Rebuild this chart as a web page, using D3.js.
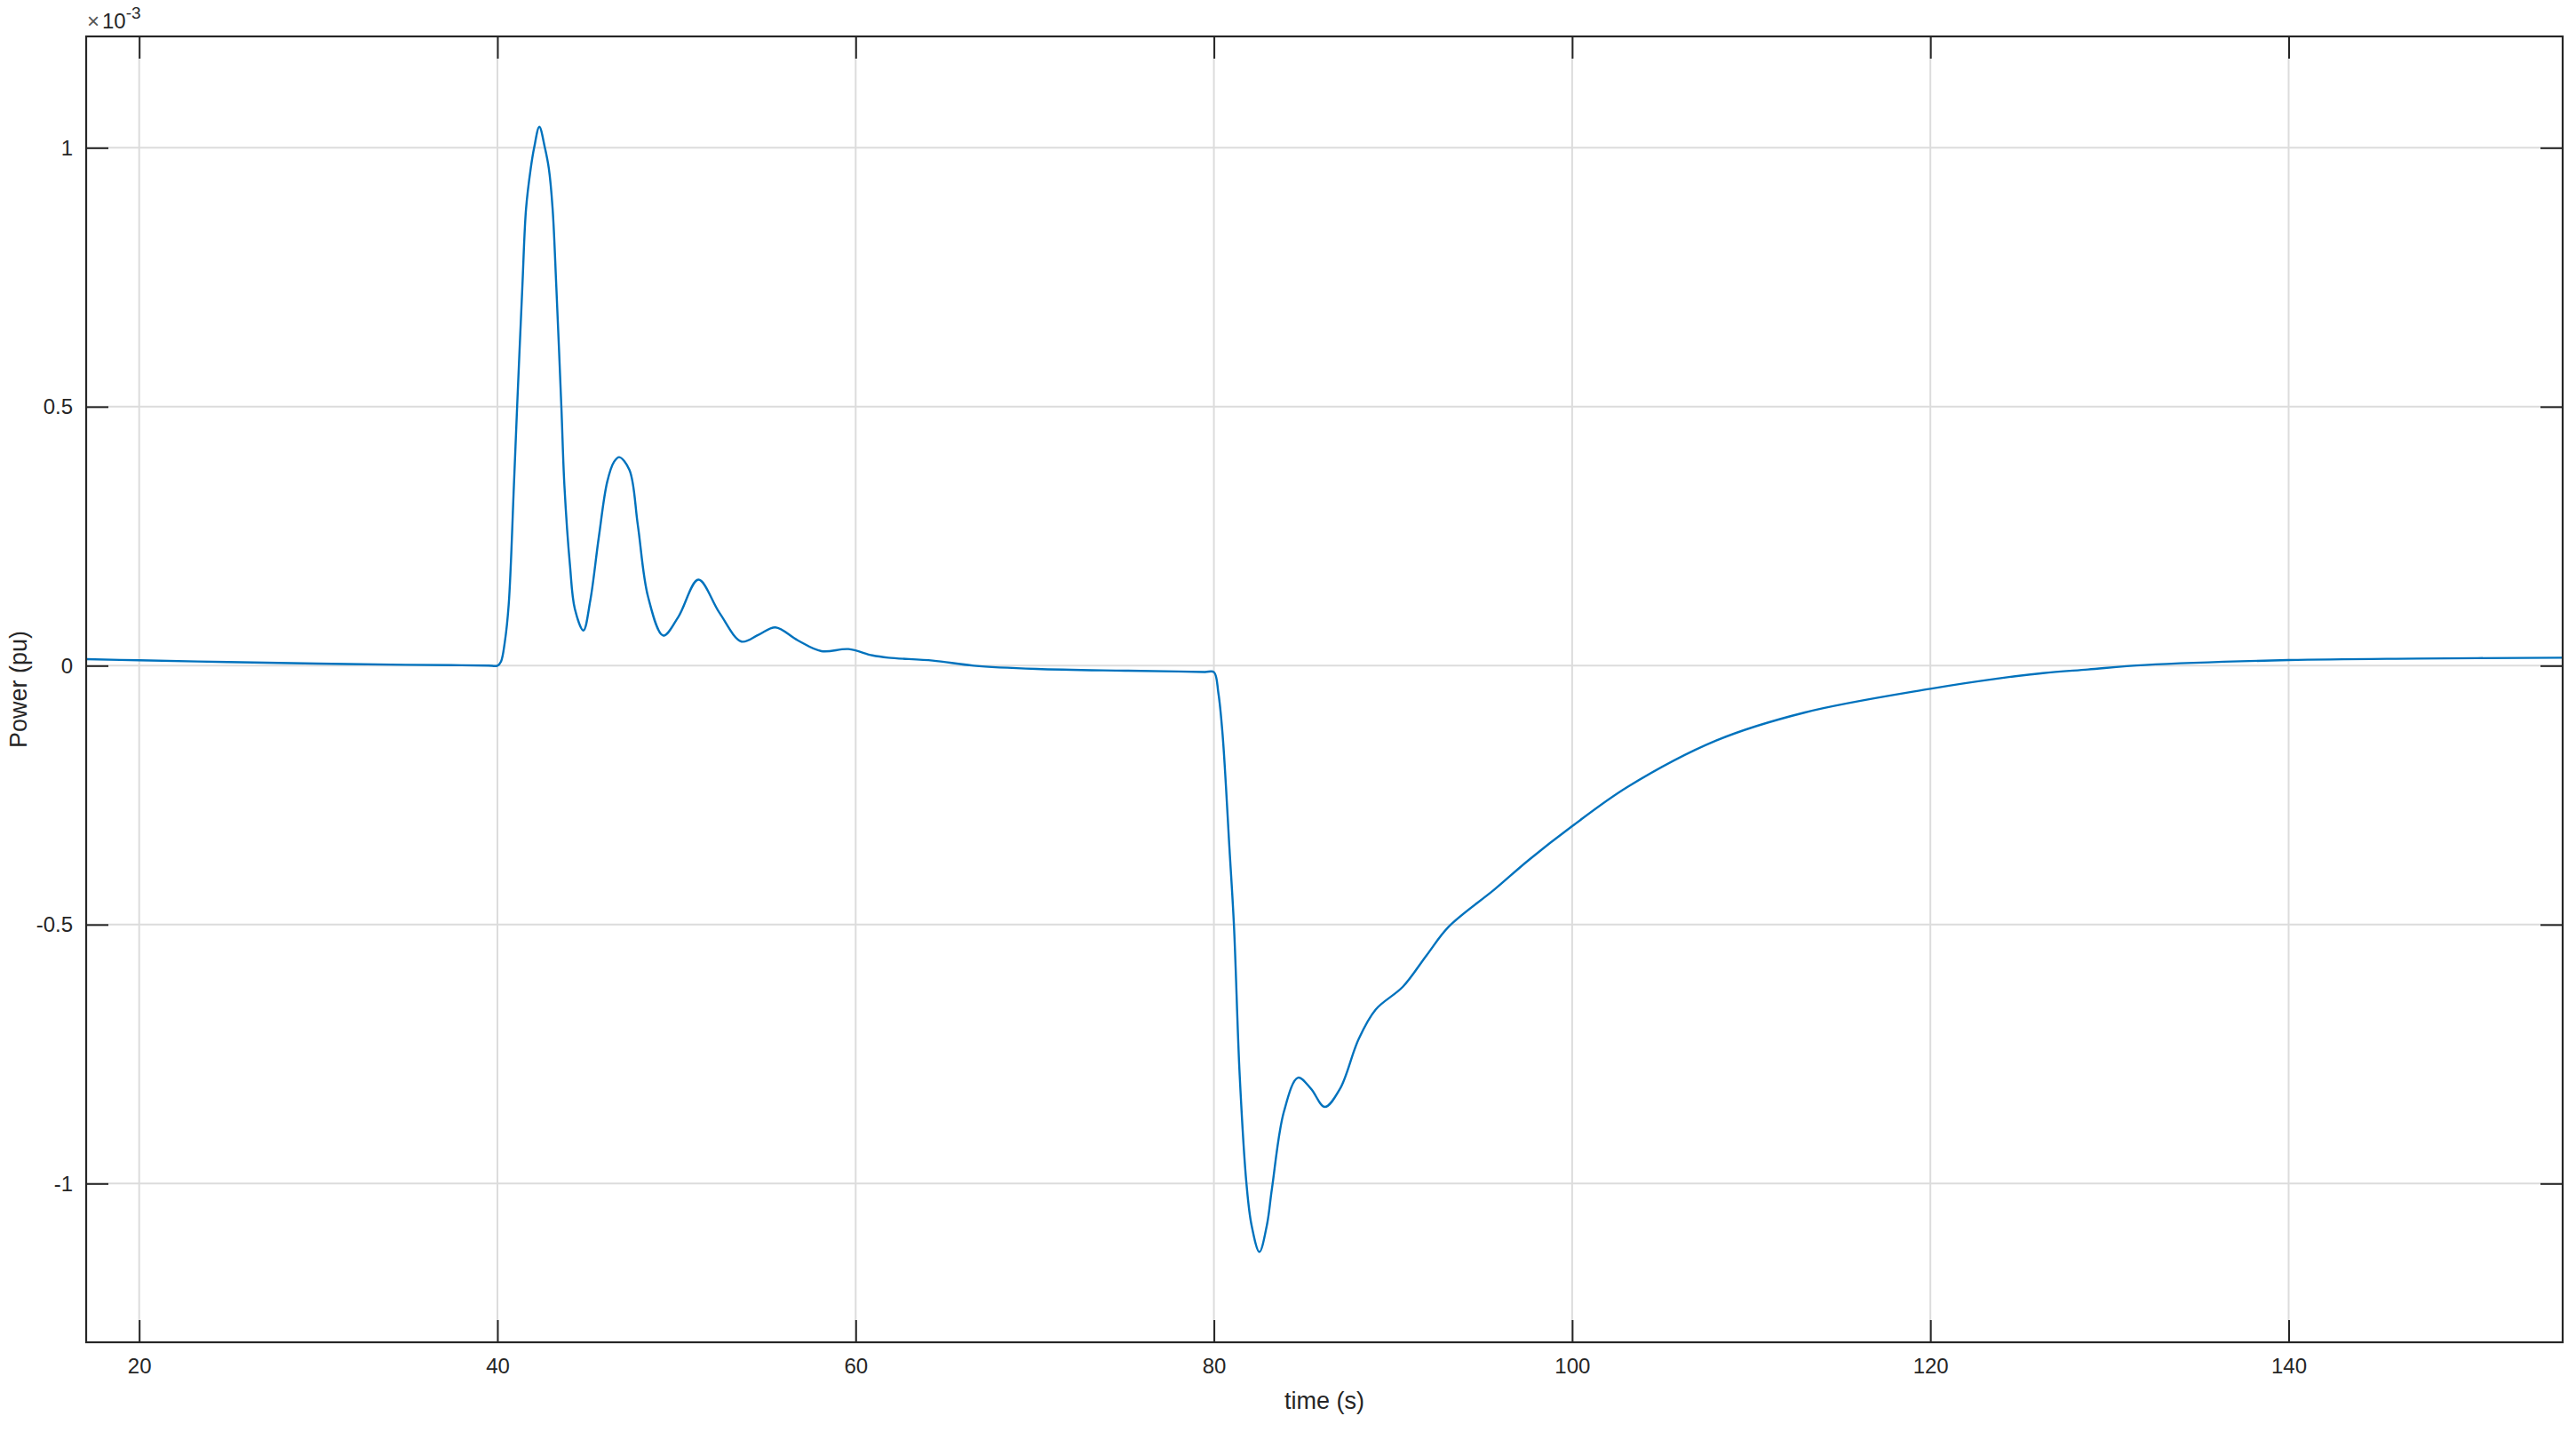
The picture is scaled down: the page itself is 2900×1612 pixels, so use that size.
<!DOCTYPE html>
<html>
<head>
<meta charset="utf-8">
<script src="https://cdn.jsdelivr.net/npm/d3@7"></script>
<style>
  html, body { margin: 0; padding: 0; background: #fff; }
  svg { display: block; font-family: "Liberation Sans", Arial, Helvetica, sans-serif; }
</style>
</head>
<body>
<svg id="chart" width="2900" height="1612"></svg>
<script>
// time (s)
const timeS = [17.04, 20, 24.96, 29.92, 34.88, 38.0, 39.5, 40.0, 40.2, 40.41, 40.63, 40.92, 41.1, 41.39, 41.6, 41.86, 42.05, 42.34,
  42.65, 42.87, 43.08, 43.29, 43.57, 43.74, 44.05, 44.32, 44.8, 45.18, 45.66, 46.13, 46.51, 46.8, 47.37, 47.84, 48.41, 49.26,
  50.11, 51.22, 52.39, 53.63, 54.6, 55.52, 56.76, 58.09, 59.6, 60.93, 61.82, 64.3, 66.6, 70.08, 75.04, 78.0, 79.5, 80.0,
  80.25, 80.49, 80.87, 81.12, 81.44, 81.82, 82.1, 82.54, 82.96, 83.24, 83.91, 84.7, 85.42, 86.19, 87.04,
  88.08, 89.03, 90.55, 91.88, 93.11, 95.67, 97.57, 100, 103.1, 108.04, 113.0, 120, 123.84, 126.28, 128.8,
  131.97, 140, 147.15, 155.3];
// Power (pu), in units of 1e-3
const powerE3 = [0.0125, 0.0103, 0.0069, 0.004, 0.0017, 0.0008, 0.0002, 0.0, 0.008, 0.045, 0.118, 0.3475, 0.5, 0.73, 0.883, 0.96, 1.0, 1.0405,
  1.0, 0.96, 0.883, 0.73, 0.5, 0.3475, 0.194, 0.11, 0.068, 0.125, 0.248, 0.355, 0.3935, 0.4026, 0.378, 0.271, 0.133, 0.058,
  0.0948, 0.166, 0.1024, 0.0465, 0.060, 0.074, 0.049, 0.028, 0.032, 0.0198, 0.0154, 0.0098, 0.0, -0.0063, -0.0097, -0.0113, -0.0122, -0.0125,
  -0.053, -0.135, -0.3535, -0.502, -0.791, -1.001, -1.08, -1.132, -1.08, -1.01, -0.861, -0.7955, -0.817, -0.852, -0.817,
  -0.721, -0.664, -0.620, -0.559, -0.504, -0.432, -0.3755, -0.31, -0.234, -0.1446, -0.0903, -0.0446, -0.0245, -0.0144, -0.0074,
  0.0012, 0.0108, 0.0137, 0.0154];

const xTickValues = [20, 40, 60, 80, 100, 120, 140];
const yTickValues = [-1, -0.5, 0, 0.5, 1];
const yTickLabels = ["-1", "-0.5", "0", "0.5", "1"];
const xDomain = [17.04, 155.3];
const yDomain = [-1.3065, 1.215];
const xLabel = "time (s)";
const yLabel = "Power (pu)";

const W = 2900, H = 1612;
const m = { left: 97, top: 41, right: 15, bottom: 101 };
const pw = W - m.left - m.right, ph = H - m.top - m.bottom;

const svg = d3.select("#chart");
const x = d3.scaleLinear().domain(xDomain).range([m.left, m.left + pw]);
const y = d3.scaleLinear().domain(yDomain).range([m.top + ph, m.top]);

const axisColor = "#262626";
const gridColor = "#dcdcdc";
const tickLen = 25;

// grid
const grid = svg.append("g");
grid.selectAll("line.gx").data(xTickValues).join("line")
  .attr("x1", d => x(d)).attr("x2", d => x(d))
  .attr("y1", m.top).attr("y2", m.top + ph)
  .attr("stroke", gridColor).attr("stroke-width", 2);
grid.selectAll("line.gy").data(yTickValues).join("line")
  .attr("y1", d => y(d)).attr("y2", d => y(d))
  .attr("x1", m.left).attr("x2", m.left + pw)
  .attr("stroke", gridColor).attr("stroke-width", 2);

// data line
const data = timeS.map((t, i) => [t, powerE3[i]]);
const line = d3.line().x(d => x(d[0])).y(d => y(d[1])).curve(d3.curveCatmullRom.alpha(0.5));
svg.append("path").datum(data)
  .attr("d", line)
  .attr("fill", "none")
  .attr("stroke", "#0072BD")
  .attr("stroke-width", 2.4)
  .attr("stroke-linejoin", "round");

// axes: inward ticks on all four sides
const fontSize = 24;
const bottomAxis = d3.axisBottom(x).tickValues(xTickValues).tickSizeInner(-tickLen).tickSizeOuter(0).tickPadding(18).tickFormat(d3.format("d"));
const topAxis = d3.axisTop(x).tickValues(xTickValues).tickSizeInner(-tickLen).tickSizeOuter(0).tickFormat("");
const leftAxis = d3.axisLeft(y).tickValues(yTickValues).tickSizeInner(-tickLen).tickSizeOuter(0).tickPadding(15)
  .tickFormat((d, i) => yTickLabels[i]);
const rightAxis = d3.axisRight(y).tickValues(yTickValues).tickSizeInner(-tickLen).tickSizeOuter(0).tickFormat("");

function styleAxis(g) {
  g.select(".domain").remove();
  g.selectAll(".tick line").attr("stroke", axisColor).attr("stroke-width", 2);
  g.selectAll(".tick text").attr("fill", axisColor).attr("font-size", fontSize)
    .attr("font-family", "'Liberation Sans', Arial, sans-serif");
}
svg.append("g").attr("transform", `translate(0,${m.top + ph})`).call(bottomAxis).call(styleAxis);
svg.append("g").attr("transform", `translate(0,${m.top})`).call(topAxis).call(styleAxis);
svg.append("g").attr("transform", `translate(${m.left},0)`).call(leftAxis).call(styleAxis);
svg.append("g").attr("transform", `translate(${m.left + pw},0)`).call(rightAxis).call(styleAxis);

// box
svg.append("rect").attr("x", m.left).attr("y", m.top).attr("width", pw).attr("height", ph)
  .attr("fill", "none").attr("stroke", axisColor).attr("stroke-width", 2.2);

// exponent label ×10^-3
const ex = svg.append("text").attr("x", m.left + 1).attr("y", 32)
  .attr("fill", axisColor).attr("font-size", 24);
ex.append("tspan").text("\u00D7").attr("fill", "#555");
ex.append("tspan").text("10").attr("dx", 3);
ex.append("tspan").text("-3").attr("dy", -11).attr("font-size", 19);

// axis labels
svg.append("text").attr("x", m.left + pw / 2).attr("y", 1586)
  .attr("text-anchor", "middle").attr("fill", axisColor).attr("font-size", 27)
  .text(xLabel);
svg.append("text").attr("transform", `translate(30,${m.top + ph / 2}) rotate(-90)`)
  .attr("text-anchor", "middle").attr("fill", axisColor).attr("font-size", 27)
  .text(yLabel);
</script>
</body>
</html>
